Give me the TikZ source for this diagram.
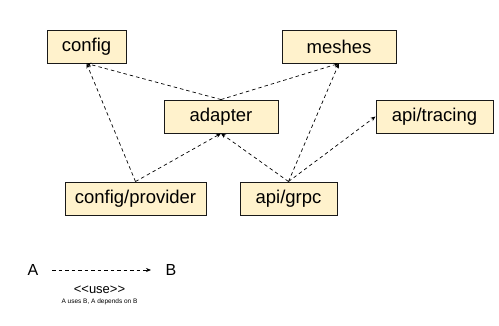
\documentclass[tikz,border=0pt]{standalone}
\usepackage{fontspec}
\setmainfont{Liberation Sans}
\usetikzlibrary{arrows.meta}
\definecolor{boxfill}{HTML}{FFF2CC}
\begin{document}
\begin{tikzpicture}[x=1pt,y=-1pt,
  pkg/.style={draw=black!90, line width=0.9pt, fill=boxfill, inner sep=0pt, font=\fontsize{18.5}{18.5}\selectfont},
  dep/.style={dashed, dash pattern=on 3.5pt off 3pt, line width=0.7pt, -{Stealth[length=5pt,width=4pt]}}]
\useasboundingbox (0,0) rectangle (499,326);
\node[pkg, minimum width=79pt, minimum height=33pt] (config) at (86.5,46.5) {config};
\node[pkg, minimum width=114pt, minimum height=33pt] (meshes) at (339,46.5) {meshes};
\node[pkg, minimum width=114pt, minimum height=33pt] (adapter) at (221,116.5) {adapter};
\node[pkg, minimum width=117pt, minimum height=33pt] (tracing) at (434.5,116.5) {api/tracing};
\node[pkg, minimum width=141pt, minimum height=33pt] (provider) at (135.5,198.5) {config/provider};
\node[pkg, minimum width=97pt, minimum height=33pt] (grpc) at (288.5,198.5) {api/grpc};
\draw[dep] (adapter.north) -- (config.south);
\draw[dep] (adapter.north) -- (meshes.south);
\draw[dep] (provider.north) -- (config.south);
\draw[dep] (provider.north) -- (adapter.south);
\draw[dep] (grpc.north) -- (adapter.south);
\draw[dep] (grpc.north) -- (meshes.south);
\draw[dep] (grpc.north) -- (tracing.west);
\node[font=\fontsize{16}{16}\selectfont] (la) at (33,270) {A};
\node[font=\fontsize{16}{16}\selectfont] (lb) at (171,270) {B};
\coordinate (ls) at (52,270);
\coordinate (le) at (151,270);
\draw[dep] (ls) -- (le);
\node[font=\fontsize{13}{13}\selectfont] (use) at (99.5,290) {<{}<use>{}>};
\node[font=\fontsize{6.5}{6.5}\selectfont] (desc) at (99.5,302) {A uses B, A depends on B};
\end{tikzpicture}
\end{document}
